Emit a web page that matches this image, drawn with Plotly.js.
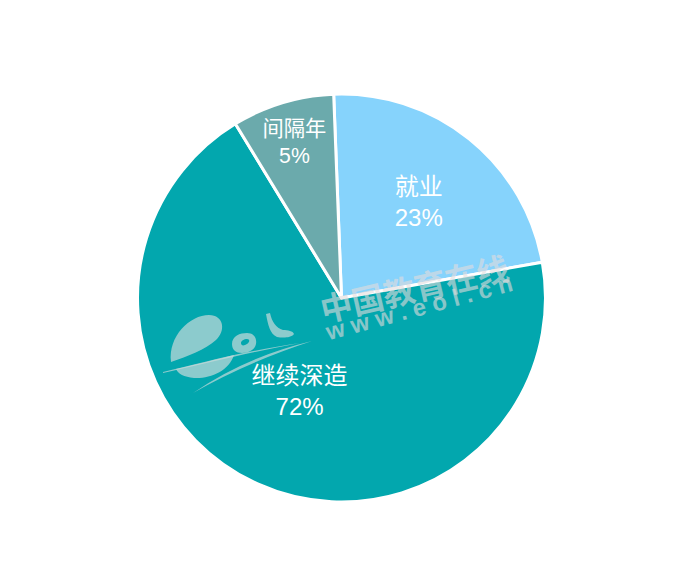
<!DOCTYPE html>
<html>
<head>
<meta charset="utf-8">
<script src="https://cdn.plot.ly/plotly-3.0.1.min.js"></script>
<style>html,body{margin:0;padding:0;background:#fff;}#chart{width:700px;height:575px;}</style>
</head>
<body>
<div id="chart"></div>
<script>
// Data (slice sizes; printed labels as shown)
const categories = ["就业", "继续深造", "间隔年"];
const sliceValues = [22.8, 69.1, 8.1];
const percentLabels = ["23%", "72%", "5%"];
const sliceColors = ["#86D3FC", "#02A7AE", "#6BAAAC"];

const labelText = categories.map((c, i) => c + "<br>" + percentLabels[i]);

const trace = {
  type: "pie",
  labels: categories,
  values: sliceValues,
  text: labelText,
  textinfo: "text",
  textposition: "inside",
  insidetextorientation: "horizontal",
  sort: false,
  direction: "clockwise",
  rotation: -2.2,
  hoverinfo: "label+text",
  marker: { colors: sliceColors, line: { color: "#ffffff", width: 3 } },
  insidetextfont: { color: "#ffffff", size: 24, family: "Liberation Sans, Noto Sans CJK SC, sans-serif" },
  domain: { x: [0.1964, 0.7793], y: [0.127, 0.8365] },
  showlegend: false
};

// watermark (decoration) helpers: pixel -> paper coordinates
const W = 700, H = 575;
function P(pts) {
  return pts.replace(/(-?\d+(?:\.\d+)?),(-?\d+(?:\.\d+)?)/g, (m, x, y) =>
    (parseFloat(x) / W).toFixed(5) + "," + (1 - parseFloat(y) / H).toFixed(5));
}
const logoCol = "rgba(200,218,218,0.7)";
const logoPaths = [
  // e: upper lobe
  "M 171,362 C 168,336 190,315 209,315 C 224,315 226,331 216,340 C 205,350 188,356 171,362 Z",
  // e: lower lobe
  "M 176,369 C 198,364 218,359 234,355 C 229,371 210,379 194,378 C 184,377 178,374 176,369 Z",
  // e tail line
  "M 163,372 C 200,363 250,350 300,343 C 250,352 200,365 163,373 Z",
  // o ring
  "M 232,344 C 232,336 240,333 247,333 C 254,333 257,338 256,344 C 255,350 248,353 242,353 C 236,353 232,350 232,344 Z M 241,343 C 241,346 244,346 247,344 C 250,342 250,339 247,339 C 244,339 241,341 241,343 Z",
  // L
  "M 266,314 L 270,313 C 272,322 276,328 283,330 C 288,330 293,331 294,334 C 291,338 283,338 277,337 C 270,334 268,325 266,314 Z",
  // swoosh
  "M 193,393 Q 245,357 312,341 Q 245,363 193,393 Z"
];
const shapes = logoPaths.map(p => ({
  type: "path", xref: "paper", yref: "paper", path: P(p),
  fillcolor: logoCol, line: { width: 0 }, fillrule: "evenodd", layer: "above"
}));

const wm = "rgba(228,220,220,0.6)";
const layout = {
  width: W,
  height: H,
  margin: { l: 0, r: 0, t: 0, b: 0 },
  paper_bgcolor: "#ffffff",
  plot_bgcolor: "#ffffff",
  showlegend: false,
  shapes: shapes,
  annotations: [
    { text: "<b>中国教育在线</b>", x: 414 / W, y: 1 - 287 / H, xref: "paper", yref: "paper",
      showarrow: false, textangle: -13, font: { size: 32, color: wm, family: "Noto Sans CJK SC, sans-serif" } },
    { text: "<b>w w w . e o l . c n</b>", x: 418 / W, y: 1 - 307 / H, xref: "paper", yref: "paper",
      showarrow: false, textangle: -15, font: { size: 24, color: wm, family: "Liberation Sans, sans-serif" } }
  ]
};

Plotly.newPlot("chart", [trace], layout, { displayModeBar: false, staticPlot: true });
</script>
</body>
</html>
